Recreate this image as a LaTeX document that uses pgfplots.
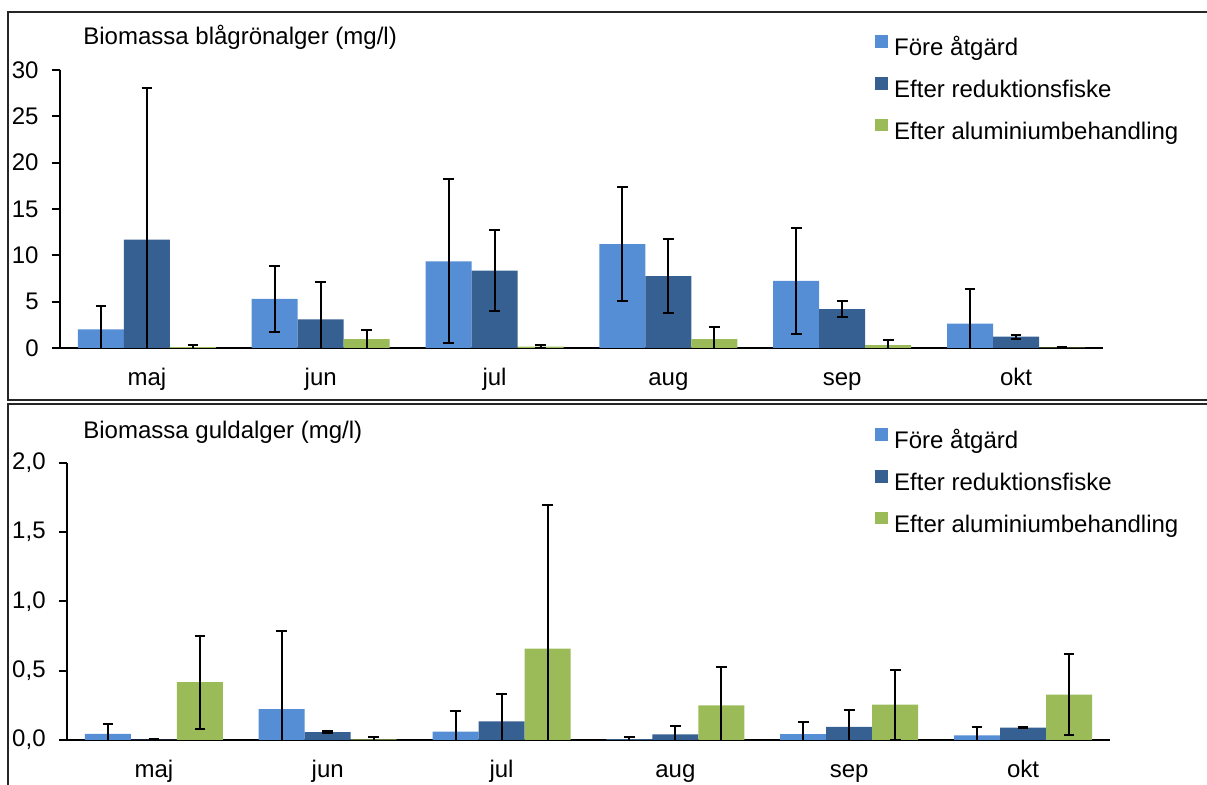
\documentclass[border=0pt]{standalone}
\usepackage{fontspec}
\setmainfont{Liberation Sans}
\usepackage{pgfplots}
\usepackage{pgfplotstable}
\pgfplotsset{compat=1.18}

\definecolor{fore}{HTML}{558ED5}
\definecolor{reduk}{HTML}{376092}
\definecolor{alu}{HTML}{9BBB59}

% blagronalger (mg/l): x, medel, fel
\pgfplotstableread{
x y e
0 2.0 2.55
1 5.3 3.6
2 9.35 8.85
3 11.2 6.13
4 7.25 5.75
5 2.62 3.78
}\blaFore
\pgfplotstableread{
x y e
0 11.7 16.4
1 3.1 4.05
2 8.35 4.35
3 7.75 4.02
4 4.2 0.85
5 1.22 0.2
}\blaReduk
\pgfplotstableread{
x y e
0 0.1 0.2
1 0.95 1.02
2 0.15 0.2
3 0.95 1.32
4 0.32 0.57
5 0.03 0.1
}\blaAlu

% guldalger (mg/l)
\pgfplotstableread{
x y e
0 0.045 0.07
1 0.222 0.568
2 0.06 0.147
3 0.004 0.02
4 0.043 0.085
5 0.034 0.06
}\guldFore
\pgfplotstableread{
x y e
0 0.003 0.005
1 0.056 0.007
2 0.135 0.195
3 0.041 0.063
4 0.094 0.125
5 0.089 0.004
}\guldReduk
\pgfplotstableread{
x y e
0 0.417 0.335
1 0.004 0.02
2 0.66 1.037
3 0.25 0.28
4 0.255 0.253
5 0.328 0.293
}\guldAlu

\newcommand{\txt}{\fontsize{12}{14}\selectfont}

\pgfplotsset{
  biomassa/.style={
    scale only axis, width=521.5pt,
    ybar=0pt, bar width=23pt,
    xmin=-0.5, xmax=5.5, ymin=0,
    xtick={0,...,5}, xticklabels={maj,jun,jul,aug,sep,okt},
    axis x line=bottom, axis y line=left,
    axis line style={line width=1pt, black, -},
    xtick style={draw=none},
    ytick style={line width=1pt, black},
    tick align=outside, major tick length=4pt,
    tick label style={font=\txt},
    /pgf/number format/assume math mode=true,
    xticklabel style={anchor=base, yshift=-15pt},
    yticklabel style={anchor=east, inner sep=0pt, xshift=-6.5pt},
    legend style={draw=none, fill=none, inner sep=0pt, font=\txt,
      row sep=7.5pt, anchor=north west,
      nodes={inner sep=0pt, text height=9pt, text depth=3pt}},
    legend cell align=left,
    legend image code/.code={\fill[#1, draw=none] (0pt,0.9pt) rectangle (6.4pt,7.3pt);},
    /tikz/every odd column/.append style={column sep=3pt},
  },
  eb/.style={draw=none,
    error bars/y dir=both, error bars/y explicit,
    error bars/error bar style={line width=1pt, black},
    error bars/error mark options={rotate=90, line width=1pt, black, mark size=2.7pt}},
}

\begin{document}
\begin{tikzpicture}
\useasboundingbox (0,0) rectangle (603.5pt,392.5pt);
\begin{scope}
  \clip (0,0) rectangle (603.5pt,392.5pt);
  \draw[line width=1pt, black!85] (620pt,386.5pt) -- (4pt,386.5pt) -- (4pt,192.5pt) -- (620pt,192.5pt);
  \draw[line width=1pt, black!85] (620pt,190.5pt) -- (4pt,190.5pt) -- (4pt,-20pt);
\end{scope}

\node[anchor=base west, inner sep=0pt, font=\txt] at (41.5pt,370pt) {Biomassa blågrönalger (mg/l)};
\node[anchor=base west, inner sep=0pt, font=\txt] at (41.5pt,173.3pt) {Biomassa guldalger (mg/l)};

\begin{axis}[biomassa, at={(30pt,218.5pt)}, anchor=south west,
  height=139pt, ymax=30, ytick={0,5,...,30},
  legend style={at={(0.7814,1.1259)}}]
  \addplot[eb, fill=fore] table[x=x, y=y, y error=e] {\blaFore};
  \addlegendentry{Före åtgärd}
  \addplot[eb, fill=reduk] table[x=x, y=y, y error=e] {\blaReduk};
  \addlegendentry{Efter reduktionsfiske}
  \addplot[eb, fill=alu] table[x=x, y=y, y error=e] {\blaAlu};
  \addlegendentry{Efter aluminiumbehandling}
\end{axis}

\begin{axis}[biomassa, at={(33.5pt,22.5pt)}, anchor=south west,
  height=138.5pt, ymax=2, ytick={0,0.5,...,2},
  yticklabel style={/pgf/number format/.cd, fixed, fixed zerofill, precision=1, use comma},
  legend style={at={(0.7747,1.1264)}}]
  \addplot[eb, fill=fore] table[x=x, y=y, y error=e] {\guldFore};
  \addlegendentry{Före åtgärd}
  \addplot[eb, fill=reduk] table[x=x, y=y, y error=e] {\guldReduk};
  \addlegendentry{Efter reduktionsfiske}
  \addplot[eb, fill=alu] table[x=x, y=y, y error=e] {\guldAlu};
  \addlegendentry{Efter aluminiumbehandling}
\end{axis}
\end{tikzpicture}
\end{document}
